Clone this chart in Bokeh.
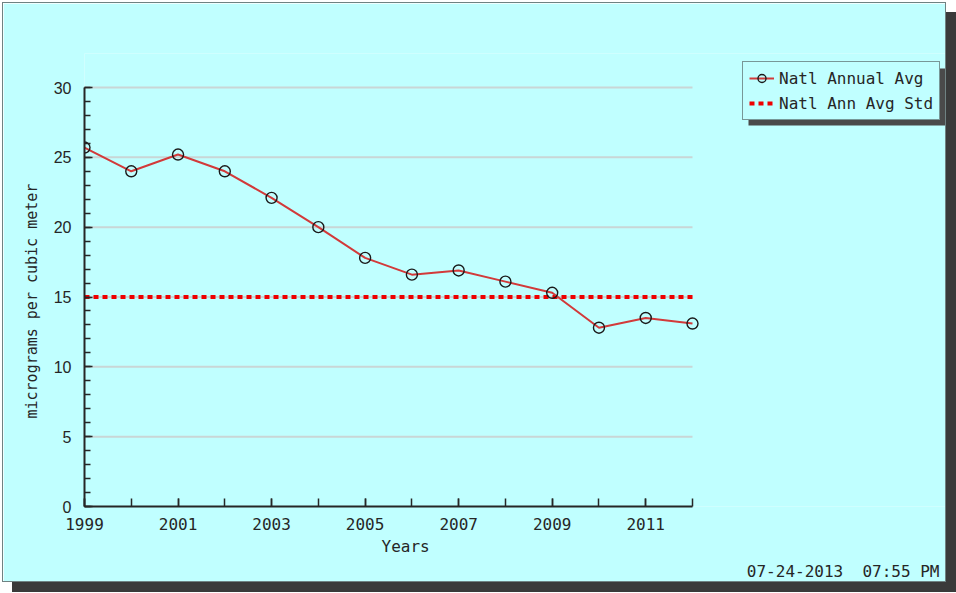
from bokeh.plotting import figure
from bokeh.models import (ColumnDataSource, FixedTicker, Legend, LegendItem, Title, Range1d,
                          BoxAnnotation)
from bokeh.embed import file_html
from bokeh.resources import INLINE

# ---------------- data ----------------
years = [1999, 2000, 2001, 2002, 2003, 2004, 2005, 2006, 2007, 2008, 2009, 2010, 2011, 2012]
natl_annual_avg = [25.7, 24.0, 25.2, 24.0, 22.1, 20.0, 17.8, 16.6, 16.9, 16.1, 15.3, 12.8, 13.5, 13.1]
natl_ann_avg_std = [15.0, 15.0]
std_years = [years[0], years[-1]]
x_label_years = [1999, 2001, 2003, 2005, 2007, 2009, 2011]
y_major_ticks = [0, 5, 10, 15, 20, 25, 30]
y_minor_ticks = list(range(0, 31))
grid_levels = [5, 10, 15, 20, 25, 30]
date_stamp = "07-24-2013\u00a0\u00a007:55\u00a0PM"
y_title = "micrograms per cubic meter"
x_title = "Years"

BG = "#c0ffff"
RED = "#d23a3a"
STD_RED = "#ee0000"
INK = "#262626"
MONO = "DejaVu Sans Mono"

# ---------------- layout (pixels on the canvas) ----------------
W, H = 942, 578
AX_LEFT, AX_RIGHT, AX_TOP, AX_BOTTOM = 81, 689, 84, 503   # where 1999 / 2012 / 30 / 0 fall
FRAME_TOP = 50                                             # frame extends above the axis top
y_lo, y_hi = y_major_ticks[0], y_major_ticks[-1]
x_lo, x_hi = years[0], years[-1]
y_end = y_lo + (y_hi - y_lo) * (AX_BOTTOM - FRAME_TOP) / (AX_BOTTOM - AX_TOP)
x_end = x_lo + (x_hi - x_lo) * (W - AX_LEFT) / (AX_RIGHT - AX_LEFT)

p = figure(width=W, height=H, output_backend="svg", toolbar_location=None,
           x_range=Range1d(x_lo, x_end), y_range=Range1d(y_lo, y_end),
           min_border_left=AX_LEFT, min_border_right=0, min_border_top=FRAME_TOP,
           min_border_bottom=H - AX_BOTTOM,
           background_fill_color=BG, border_fill_color=BG)
p.outline_line_color = None
p.grid.visible = False
p.styles = {"position": "absolute", "left": "3px", "top": "3px",
            "box-shadow": "0 0 0 1px #6f8282, 10px 10px 0 1px #3a3a3a"}

# gridlines (from grid levels, spanning the years)
grid_src = ColumnDataSource(dict(x0=[x_lo] * len(grid_levels), x1=[x_hi] * len(grid_levels),
                                 y=grid_levels))
p.segment(x0="x0", y0="y", x1="x1", y1="y", source=grid_src, line_color="#c9d6d6", line_width=2)

# series
std_r = p.line(std_years, natl_ann_avg_std, line_color=STD_RED, line_width=4, line_dash="5 4")
line_r = p.line(years, natl_annual_avg, line_color=RED, line_width=2)
pts_r = p.scatter(years, natl_annual_avg, marker="circle", size=11, fill_color=None,
                  line_color="#1a1a1a", line_width=1.4)

# x axis
xa = p.xaxis[0]
xa.ticker = FixedTicker(ticks=x_label_years, minor_ticks=years)
xa.bounds = (x_lo, x_hi)
xa.axis_line_color = INK
xa.axis_line_width = 2
xa.major_tick_in = 8
xa.major_tick_out = 0
xa.minor_tick_in = 8
xa.minor_tick_out = 0
xa.major_tick_line_color = INK
xa.minor_tick_line_color = INK
xa.major_tick_line_width = 1.5
xa.minor_tick_line_width = 1.5
xa.major_label_text_font = MONO
xa.major_label_text_font_size = "16px"
xa.major_label_text_color = INK
xa.major_label_standoff = 11

# y axis
ya = p.yaxis[0]
ya.ticker = FixedTicker(ticks=y_major_ticks, minor_ticks=y_minor_ticks)
ya.bounds = (y_lo, y_hi)
ya.axis_line_color = INK
ya.axis_line_width = 2
ya.major_tick_in = 8
ya.major_tick_out = 0
ya.minor_tick_in = 6
ya.minor_tick_out = 0
ya.major_tick_line_color = INK
ya.minor_tick_line_color = INK
ya.major_tick_line_width = 1.5
ya.minor_tick_line_width = 1.5
ya.major_label_text_font = "Liberation Sans"
ya.major_label_text_font_size = "16px"
ya.major_label_text_color = INK
ya.major_label_standoff = 13

# y axis title (in the left panel, starting near the bottom of the axis)
p.add_layout(Title(text=y_title, align="left", offset=88, standoff=19,
                   text_font=MONO, text_font_size="15px", text_font_style="normal",
                   text_color=INK), "left")

# x axis title and date stamp (titles in the panel below)
p.add_layout(Title(text=x_title, align="left", offset=297, standoff=5,
                   text_font=MONO, text_font_size="16px", text_font_style="normal",
                   text_color=INK), "below")
p.add_layout(Title(text=date_stamp, align="right", offset=6, standoff=2,
                   text_font=MONO, text_font_size="16px", text_font_style="normal",
                   text_color=INK), "below")

# legend shadow, then legend
p.add_layout(BoxAnnotation(left=664, right=861, bottom=381, top=438,
                           left_units="screen", right_units="screen",
                           bottom_units="screen", top_units="screen",
                           fill_color="#4a4a4a", fill_alpha=1, line_color=None))

legend = Legend(items=[LegendItem(label="Natl Annual Avg", renderers=[line_r, pts_r]),
                       LegendItem(label="Natl Ann Avg Std", renderers=[std_r])],
                location=(658, 386))
legend.background_fill_color = BG
legend.background_fill_alpha = 1
legend.border_line_color = "#303030"
legend.border_line_width = 1
legend.label_text_font = MONO
legend.label_text_font_size = "16px"
legend.label_text_color = INK
legend.glyph_width = 25
legend.glyph_height = 20
legend.label_standoff = 5
legend.label_height = 20
legend.spacing = 5
legend.padding = 6
legend.margin = 0
p.add_layout(legend)

open("out.html", "w").write(file_html(p, INLINE))
